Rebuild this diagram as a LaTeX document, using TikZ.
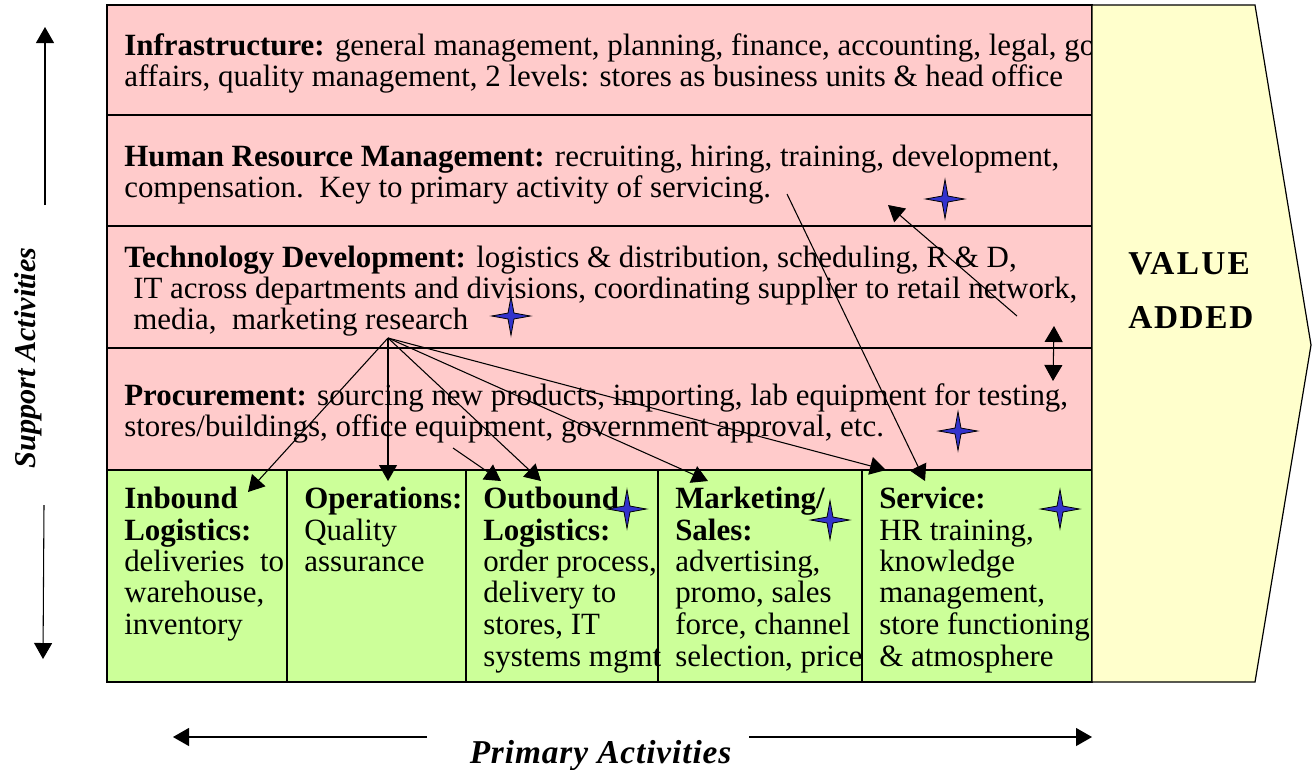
\documentclass[tikz,border=0pt]{standalone}
\usepackage{fontspec}
\setmainfont{Liberation Serif}
\usetikzlibrary{arrows.meta,shapes.geometric}
\definecolor{pinkfill}{HTML}{FFCBCB}
\definecolor{greenfill}{HTML}{CCFF99}
\definecolor{yellowfill}{HTML}{FFFFCC}
\definecolor{starblue}{HTML}{3333CC}
\tikzset{
  txt/.style={anchor=base west,inner sep=0pt,yshift=-0.75pt,font=\fontsize{23.2pt}{28pt}\selectfont},
  boxp/.style={draw=black,line width=1.1pt,fill=pinkfill},
  boxg/.style={draw=black,line width=1.1pt,fill=greenfill},
  conn/.style={draw=black,line width=0.8pt,-{Triangle[length=12pt,width=13.5pt]}},
  sparkle/.style={star,star points=4,star point ratio=4.6,draw=black,line width=0.6pt,fill=starblue,inner sep=0pt,minimum size=29pt},
}
\begin{document}
\begin{tikzpicture}[x=0.75pt,y=-0.75pt]
\useasboundingbox (0,0) rectangle (1313,769);
% boxes
\draw[boxp] (107,5) rectangle (1092,115);
\draw[boxp] (107,115) rectangle (1092,226);
\draw[boxp] (107,226) rectangle (1092,348);
\draw[boxp] (107,348) rectangle (1092,470);
\draw[boxg] (107,470) rectangle (287,682);
\draw[boxg] (287,470) rectangle (466,682);
\draw[boxg] (466,470) rectangle (658,682);
\draw[boxg] (658,470) rectangle (862,682);
\draw[boxg] (862,470) rectangle (1092,682);
% support texts
\node[txt] (inf1) at (124,54) {\textbf{Infrastructure:} general management, planning, finance, accounting, legal, go};
\node[txt] (inf2) at (124,85) {affairs, quality management, 2 levels: stores as business units \& head office};
\node[txt] (hr1) at (124,165) {\textbf{Human Resource Management:} recruiting, hiring, training, development,};
\node[txt] (hr2) at (124,196) {compensation.\ \ Key to primary activity of servicing.};
\node[txt] (td1) at (124,266) {\textbf{Technology Development:} logistics \& distribution, scheduling, R \& D,};
\node[txt] (td2) at (133,297) {IT across departments and divisions, coordinating supplier to retail network,};
\node[txt] (td3) at (133,328) {media,\ \ marketing research};
\node[txt] (pr1) at (124,404) {\textbf{Procurement:} sourcing new products, importing, lab equipment for testing,};
\node[txt] (pr2) at (124,435) {stores/buildings, office equipment, government approval, etc.};
% primary texts
\node[txt] (ib1) at (124,507) {\textbf{Inbound}};
\node[txt] (ib2) at (124,539) {\textbf{Logistics:}};
\node[txt] (ib3) at (124,570) {deliveries\ \ to};
\node[txt] (ib4) at (124,601) {warehouse,};
\node[txt] (ib5) at (124,633) {inventory};
\node[txt] (op1) at (304,507) {\textbf{Operations:}};
\node[txt] (op2) at (304,539) {Quality};
\node[txt] (op3) at (304,570) {assurance};
\node[txt] (ob1) at (483,507) {\textbf{Outbound}};
\node[txt] (ob2) at (483,539) {\textbf{Logistics:}};
\node[txt] (ob3) at (483,570) {order process,};
\node[txt] (ob4) at (483,601) {delivery to};
\node[txt] (ob5) at (483,633) {stores, IT};
\node[txt] (ob6) at (483,665) {systems mgmt};
\node[txt] (ms1) at (675,507) {\textbf{Marketing/}};
\node[txt] (ms2) at (675,539) {\textbf{Sales:}};
\node[txt] (ms3) at (675,570) {advertising,};
\node[txt] (ms4) at (675,601) {promo, sales};
\node[txt] (ms5) at (675,633) {force, channel};
\node[txt] (ms6) at (675,665) {selection, price};
\node[txt] (sv1) at (879,507) {\textbf{Service:}};
\node[txt] (sv2) at (879,539) {HR training,};
\node[txt] (sv3) at (879,570) {knowledge};
\node[txt] (sv4) at (879,601) {management,};
\node[txt] (sv5) at (879,633) {store functioning};
\node[txt] (sv6) at (879,665) {\&\ atmosphere};
% value added arrow
\draw[draw=black,line width=0.9pt,fill=yellowfill] (1092,5) -- (1255,5) -- (1311,345) -- (1255,682) -- (1092,682) -- cycle;
\node[txt,font=\fontsize{25pt}{30pt}\selectfont] (va1) at (1128,273) {\textbf{\addfontfeature{LetterSpace=7}VALUE}};
\node[txt,font=\fontsize{25pt}{30pt}\selectfont] (va2) at (1128,327) {\textbf{\addfontfeature{LetterSpace=5}ADDED}};
% side labels
\node[txt,anchor=base,rotate=90,font=\fontsize{22.7pt}{28pt}\selectfont] (sup) at (36,357) {\textbf{\textit{Support Activities}}};
\node[txt,anchor=base,font=\fontsize{25pt}{30pt}\selectfont] (pri) at (601,762) {\textbf{\textit{\addfontfeature{LetterSpace=2.7}Primary Activities}}};
% coordinates
\coordinate (hub) at (388,338);
\coordinate (aIb) at (248,492);
\coordinate (aOp) at (388,481);
\coordinate (aObS) at (453,448);
\coordinate (aObA) at (501,481);
\coordinate (aObB) at (541,481);
\coordinate (aMs) at (708,481);
\coordinate (aSv) at (886,470);
\coordinate (hrS) at (787,194);
\coordinate (hrE) at (925,481);
\coordinate (tdS) at (1017,316);
\coordinate (tdE) at (888,205);
\coordinate (dA) at (1054,326);
\coordinate (dB) at (1053,381);
\coordinate (upS) at (45,205);
\coordinate (upE) at (45,27);
\coordinate (dnS) at (44,505);
\coordinate (dnE) at (43,659);
\coordinate (lfS) at (427,737);
\coordinate (lfE) at (173,737);
\coordinate (rtS) at (749,737);
\coordinate (rtE) at (1092,737);
% connectors
\draw[conn] (hub) -- (aIb);
\draw[conn] (hub) -- (aOp);
\draw[conn] (aObS) -- (aObA);
\draw[conn] (hub) -- (aObB);
\draw[conn] (hub) -- (aMs);
\draw[conn] (hub) -- (aSv);
\draw[conn] (hrS) -- (hrE);
\draw[conn] (tdS) -- (tdE);
\draw[conn,{Triangle[length=12pt,width=13.5pt]}-{Triangle[length=12pt,width=13.5pt]}] (dA) -- (dB);
\draw[conn] (upS) -- (upE);
\draw[conn] (dnS) -- (dnE);
\draw[conn] (lfS) -- (lfE);
\draw[conn] (rtS) -- (rtE);
% stars
\node[sparkle] (s1) at (945,199) {};
\node[sparkle] (s2) at (511,316) {};
\node[sparkle] (s3) at (958,431) {};
\node[sparkle] (s4) at (627,509) {};
\node[sparkle] (s5) at (830,520) {};
\node[sparkle] (s6) at (1060,509) {};
\end{tikzpicture}
\end{document}
